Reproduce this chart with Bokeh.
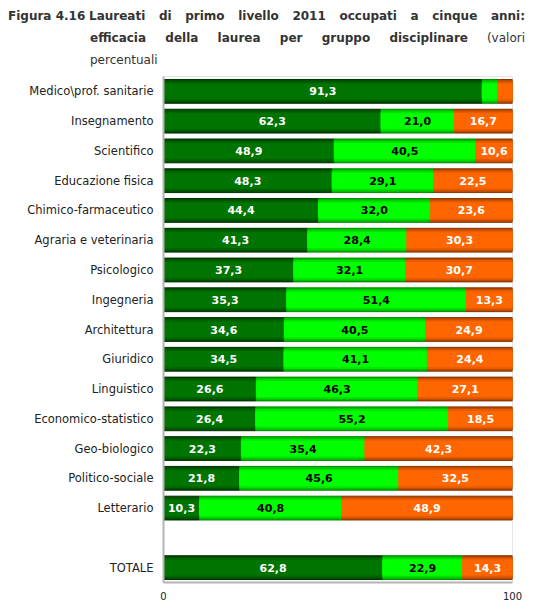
from bokeh.plotting import figure
from bokeh.layouts import column
from bokeh.models import ColumnDataSource, FactorRange, FixedTicker, Div
from bokeh.core.properties import value
from bokeh.embed import file_html
from bokeh.resources import INLINE

# gruppi disciplinari, dall'alto verso il basso
gruppi = ["Medico\\prof. sanitarie", "Insegnamento", "Scientifico", "Educazione fisica",
          "Chimico-farmaceutico", "Agraria e veterinaria", "Psicologico", "Ingegneria",
          "Architettura", "Giuridico", "Linguistico", "Economico-statistico",
          "Geo-biologico", "Politico-sociale", "Letterario", "TOTALE"]

# tre classi di efficacia (valori percentuali)
molto_efficace = [91.3, 62.3, 48.9, 48.3, 44.4, 41.3, 37.3, 35.3, 34.6, 34.5, 26.6, 26.4, 22.3, 21.8, 10.3, 62.8]
abbastanza_efficace = [4.5, 21.0, 40.5, 29.1, 32.0, 28.4, 32.1, 51.4, 40.5, 41.1, 46.3, 55.2, 35.4, 45.6, 40.8, 22.9]
poco_efficace = [4.2, 16.7, 10.6, 22.5, 23.6, 30.3, 30.7, 13.3, 24.9, 24.4, 27.1, 18.5, 42.3, 32.5, 48.9, 14.3]

fattori = gruppi[:-1] + [" "] + gruppi[-1:]


def etichetta(v):
    return ("%.1f" % v).replace(".", ",") if v >= 8 else ""


a_end = [a for a in molto_efficace]
b_end = [a + b for a, b in zip(molto_efficace, abbastanza_efficace)]
c_end = [a + b + c for a, b, c in zip(molto_efficace, abbastanza_efficace, poco_efficace)]

source = ColumnDataSource(dict(
    y=gruppi,
    a0=[0] * len(gruppi), a1=a_end,
    b0=a_end, b1=b_end,
    c0=b_end, c1=c_end,
    am=[v / 2 for v in a_end],
    bm=[s + v / 2 for s, v in zip(a_end, abbastanza_efficace)],
    cm=[s + v / 2 for s, v in zip(b_end, poco_efficace)],
    al=[etichetta(v) for v in molto_efficace],
    bl=[etichetta(v) for v in abbastanza_efficace],
    cl=[etichetta(v) for v in poco_efficace],
))

p = figure(frame_width=349, frame_height=506, y_range=FactorRange(factors=fattori[::-1]), x_range=(0, 100),
           output_backend="svg", toolbar_location=None,
           min_border_left=163, min_border_right=18, min_border_top=10, min_border_bottom=0)

# barre con sfumatura verticale (bordo scuro, centro chiaro)
altezze = [0.8, 0.72, 0.62, 0.5]
scuro = ["#003400", "#005000", "#006400", "#007400"]
chiaro = ["#009000", "#00c000", "#00e400", "#00ff00"]
arancio = ["#8a3600", "#c04c00", "#e85c00", "#ff6600"]
for h, c1, c2, c3 in zip(altezze, scuro, chiaro, arancio):
    p.hbar(y="y", left="a0", right="a1", height=h, color=c1, source=source)
    p.hbar(y="y", left="b0", right="b1", height=h, color=c2, source=source)
    p.hbar(y="y", left="c0", right="c1", height=h, color=c3, source=source)

stile = dict(y="y", text_align="center", text_baseline="middle", text_font=value("DejaVu Sans"),
             text_font_style="bold", text_font_size="11px", source=source)
p.text(x="am", text="al", text_color="white", **stile)
p.text(x="bm", text="bl", text_color="black", **stile)
p.text(x="cm", text="cl", text_color="white", **stile)

p.xgrid.visible = False
p.ygrid.visible = False
p.outline_line_color = "#e6e6e6"

p.xaxis.ticker = FixedTicker(ticks=[0, 100])
p.xaxis.major_tick_line_color = None
p.xaxis.minor_tick_line_color = None
p.xaxis.axis_line_color = "#b4b4b4"
p.xaxis.axis_line_width = 2
p.xaxis.major_label_text_font = "DejaVu Sans"
p.xaxis.major_label_text_font_size = "10px"
p.xaxis.major_label_text_color = "#222222"
p.xaxis.major_label_standoff = 3

p.yaxis.major_tick_line_color = None
p.yaxis.axis_line_color = "#b4b4b4"
p.yaxis.axis_line_width = 2
p.yaxis.major_label_text_font = "DejaVu Sans"
p.yaxis.major_label_text_font_size = "11.5px"
p.yaxis.major_label_text_color = "#222222"
p.yaxis.major_label_standoff = 4

# titolo: etichetta della figura e tre righe giustificate
W = 530
righe = [
    ("<b>Figura 4.16</b>", 8, 15, 0, False),
    ("<b>Laureati di primo livello 2011 occupati a cinque anni:</b>", 89, 15, 436, True),
    ("<b>efficacia della laurea per gruppo disciplinare</b> (valori", 90, 37, 435, True),
    ("percentuali", 90, 59, 0, False),
]
blocchi = []
for html, px, py, larghezza, giustifica in righe:
    extra = ("width:%dpx;text-align:justify;text-align-last:justify;" % larghezza) if giustifica else \
        "white-space:nowrap;"
    blocchi.append('<div style="position:absolute;left:%dpx;top:%dpx;line-height:16px;%s">%s</div>'
                   % (px, py - 7, extra, html))
testo = ('<div style="position:relative;width:%dpx;height:66px;font-family:\'DejaVu Sans\';'
         'font-size:12px;color:#333333">%s</div>' % (W, "".join(blocchi)))
intestazione = Div(text=testo, width=W, height=66, margin=0)

open("out.html", "w").write(file_html(column(intestazione, p), INLINE))
